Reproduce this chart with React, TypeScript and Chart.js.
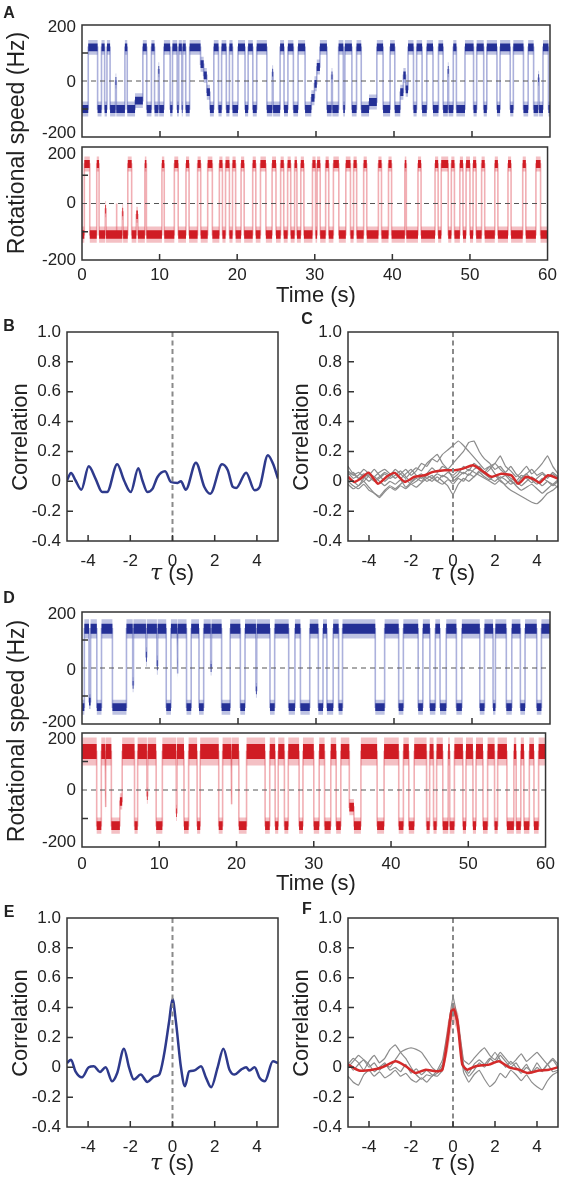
import React, { useEffect, useRef } from 'react';
import { Chart, registerables } from 'chart.js';

Chart.register(...registerables);

const FONT = '"Liberation Sans", Arial, Helvetica, sans-serif';
Chart.defaults.font.family = FONT;
Chart.defaults.color = '#222';

// ---------------- DATA ----------------
type Seg = [number, number, number];

const timeTicks = [0, 10, 20, 30, 40, 50, 60];
const speedInnerTicks = [-100, 100];
const tauTicks = [-4, -2, 0, 2, 4];
const corrTicks = [-0.4, -0.2, 0, 0.2, 0.4, 0.6, 0.8, 1.0];
const corrInnerTicks = [-0.2, 0, 0.2, 0.4, 0.6, 0.8];

// Panel A, upper (blue) trace: level outside the segments + segments [start s, end s, level Hz]
const aBlueBase = -100;
const aBlueSegments: Seg[] = [
  [0.8, 2.0, 120], [2.5, 2.9, 120], [3.2, 3.6, 120], [4.3, 4.4, 0], [5.5, 5.8, 120], [6.8, 7.8, -70],
  [7.8, 8.3, 120], [8.9, 9.3, 120], [9.8, 9.9, 40], [10.5, 11.3, 120], [11.6, 12.2, 120], [12.4, 12.8, 120],
  [12.9, 13.3, 120], [13.8, 15.2, 120], [15.2, 15.6, 60], [15.6, 16.0, 20], [16.0, 16.4, -40],
  [16.9, 17.5, 120], [17.9, 18.5, 120], [18.9, 19.3, 120], [20.0, 20.9, 120], [21.3, 21.9, 120],
  [22.4, 23.7, 120], [24.4, 24.5, 30], [25.4, 25.9, 120], [26.4, 27.1, 120], [27.7, 28.6, 120], [29.4, 29.8, -60],
  [29.8, 30.1, -10], [30.1, 30.5, 50], [30.5, 31.4, 120], [32.0, 32.1, 20], [32.9, 33.5, 120], [33.7, 34.6, 120],
  [35.2, 35.8, 120], [36.8, 37.8, -75], [37.8, 38.6, 120], [39.5, 40.1, 120], [40.8, 41.2, -40],
  [41.2, 41.5, 20], [41.5, 41.8, -30], [41.8, 42.5, 120], [42.9, 43.6, 120], [44.2, 45.0, 120],
  [45.7, 46.3, 120], [46.9, 47.0, 40], [47.6, 48.0, 120], [49.1, 50.2, 120], [50.6, 51.5, 120], [51.9, 53.2, 120],
  [53.6, 54.9, 120], [55.3, 56.6, 120], [57.2, 57.9, 120], [58.5, 58.6, 10], [59.1, 59.8, 120],
];

// Panel A, lower (red) trace
const aRedBase = -110;
const aRedSegments: Seg[] = [
  [0.3, 1.0, 140], [1.9, 2.2, 140], [3.0, 3.1, -20], [4.4, 4.5, 0], [5.2, 5.3, -30],
  [5.9, 6.4, 140], [7.0, 7.2, -40], [8.1, 8.3, 140], [10.3, 10.6, 140], [11.9, 12.4, 140],
  [13.4, 13.8, 140], [14.9, 15.3, 140], [16.2, 16.8, 140], [17.7, 18.1, 140], [18.5, 19.0, 140],
  [19.4, 19.8, 140], [20.5, 20.9, 140], [22.0, 22.4, 140], [23.0, 23.7, 140], [24.5, 25.0, 140],
  [25.6, 26.0, 140], [26.5, 26.9, 140], [27.4, 27.7, 140], [28.2, 28.6, 140], [29.7, 30.1, 140],
  [30.3, 30.7, 140], [31.4, 31.8, 140], [32.4, 33.1, 140], [34.0, 34.6, 140], [35.0, 35.4, 140],
  [36.3, 36.7, 140], [38.2, 38.6, 140], [39.5, 39.9, 140], [41.6, 41.8, 140], [43.3, 43.7, 140],
  [45.5, 45.9, 140], [46.3, 47.2, 140], [47.6, 48.0, 140], [48.7, 49.1, 140], [49.5, 50.0, 140],
  [50.4, 50.8, 140], [51.5, 51.9, 140], [53.2, 53.6, 140], [54.9, 55.3, 140], [56.8, 57.2, 140],
  [58.5, 59.1, 140],
];

// Panel D, upper (blue) trace
const dBlueBase = 140;
const dBlueSegments: Seg[] = [
  [0, 0.3, -140], [0.9, 1.1, -120], [1.9, 2.5, -140], [3.9, 5.7, -140], [6.5, 6.6, -60],
  [8.2, 8.3, 40], [9.6, 9.7, 10], [10.8, 11.4, -140], [12.2, 12.3, -20], [13.4, 14.0, -140],
  [15.0, 15.6, -140], [16.5, 16.6, 0], [17.9, 19.0, -140], [20.3, 20.9, -140], [22.3, 22.4, -80],
  [24.1, 24.7, -140], [26.5, 27.3, -140], [28.0, 29.2, -140], [30.3, 30.9, -140], [31.4, 32.2, -140],
  [32.9, 33.4, -140], [37.6, 38.8, -140], [40.6, 41.2, -140], [43.1, 43.7, -140], [44.6, 45.3, -140],
  [45.9, 46.7, -140], [48.0, 48.7, -140], [51.0, 51.6, -140], [52.7, 53.0, -140], [54.4, 55.1, -140],
  [56.2, 56.8, -140], [58.3, 58.9, -140],
];

// Panel D, lower (red) trace
const dRedBase = 135;
const dRedSegments: Seg[] = [
  [1.9, 2.5, -125], [3.0, 3.1, -60], [3.8, 4.9, -125], [4.9, 5.2, -40], [6.8, 7.2, -125],
  [8.4, 8.5, -20], [9.6, 10.4, -125], [12.2, 12.3, -80], [13.2, 13.8, -125], [14.9, 15.3, -125],
  [17.7, 18.2, -125], [19.3, 19.4, -50], [20.3, 21.3, -125], [23.7, 24.3, -125], [25.0, 25.4, -125],
  [26.2, 26.7, -125], [28.1, 28.6, -125], [30.0, 30.7, -125], [31.4, 32.2, -125], [32.9, 33.5, -125],
  [34.6, 35.2, -60], [35.2, 36.1, -125], [38.2, 39.1, -125], [41.0, 41.6, -125], [42.3, 43.0, -125],
  [44.6, 45.0, -125], [45.5, 45.9, -125], [46.7, 47.4, -125], [47.6, 48.2, -125], [49.3, 49.7, -125],
  [50.6, 51.0, -125], [51.9, 52.5, -125], [53.4, 53.8, -125], [55.0, 55.9, -125], [56.2, 56.8, -125],
  [57.2, 57.9, -125], [58.5, 59.1, -125],
];

// Panel B
const bTau = [-5.0, -4.81, -4.6, -4.32, -3.97, -3.65, -3.33, -3.1, -2.62, -2.3, -1.98, -1.62, -1.43, -1.19, -0.95, -0.71, -0.35, -0.08, 0.24, 0.4, 0.63, 1.11, 1.51, 1.79, 2.35, 2.62, 2.86, 3.02, 3.49, 3.89, 4.13, 4.52, 4.76, 5.0];
const bCorr = [0.007, 0.056, 0.007, -0.056, 0.1, 0.018, -0.072, -0.072, 0.114, 0.007, -0.072, 0.087, 0.007, -0.072, -0.051, 0.029, 0.067, -0.004, -0.011, 0.0, -0.056, 0.125, -0.038, -0.083, 0.114, 0.074, -0.038, -0.045, 0.058, -0.06, -0.038, 0.175, 0.119, 0.018];

// grid used by the individual (grey) correlation curves
const tauGrid = [-5, -4.75, -4.5, -4.25, -4, -3.75, -3.5, -3.25, -3, -2.75, -2.5, -2.25, -2, -1.75, -1.5, -1.25, -1, -0.75, -0.5, -0.25, 0, 0.25, 0.5, 0.75, 1, 1.25, 1.5, 1.75, 2, 2.25, 2.5, 2.75, 3, 3.25, 3.5, 3.75, 4, 4.25, 4.5, 4.75, 5];

// Panel C
const cGray1 = [0.06, 0.02, 0.04, 0.08, 0.05, 0.01, 0.03, 0.06, 0.04, 0.08, 0.05, 0.02, 0.06, 0.09, 0.07, 0.12, 0.15, 0.13, 0.18, 0.21, 0.24, 0.27, 0.24, 0.2, 0.16, 0.12, 0.08, 0.1, 0.05, 0.02, 0.04, 0.0, -0.02, 0.02, 0.05, 0.01, -0.02, 0.02, 0.0, -0.03, 0.0];
const cGray2 = [0.1, 0.05, 0.02, 0.0, 0.04, 0.08, 0.04, 0.0, 0.03, 0.06, 0.02, 0.05, 0.08, 0.04, 0.02, 0.05, 0.09, 0.06, 0.1, 0.08, 0.12, 0.16, 0.2, 0.26, 0.27, 0.2, 0.15, 0.12, 0.08, 0.1, 0.06, 0.1, 0.05, 0.02, 0.05, 0.08, 0.04, 0.06, 0.03, 0.05, 0.02];
const cGray3 = [-0.02, -0.05, -0.03, 0.0, -0.04, -0.08, -0.1, -0.06, -0.03, -0.05, -0.02, 0.01, -0.02, 0.0, 0.03, 0.0, 0.02, 0.05, 0.03, 0.06, 0.04, 0.07, 0.05, 0.08, 0.06, 0.04, 0.02, 0.0, -0.02, 0.01, -0.03, -0.06, -0.08, -0.1, -0.12, -0.14, -0.15, -0.12, -0.08, -0.06, -0.03];
const cGray4 = [0.04, 0.06, 0.02, 0.05, 0.03, 0.0, 0.02, 0.05, 0.02, 0.04, 0.07, 0.03, 0.0, 0.03, 0.05, 0.02, 0.04, 0.0, -0.02, 0.01, 0.0, 0.03, 0.06, 0.04, 0.08, 0.1, 0.06, 0.1, 0.12, 0.17, 0.1, 0.07, 0.03, 0.06, 0.1, 0.05, 0.08, 0.12, 0.17, 0.1, 0.05];
const cGray5 = [0.0, -0.03, -0.05, -0.02, -0.06, -0.08, -0.11, -0.07, -0.04, -0.06, -0.03, -0.05, -0.02, -0.04, -0.01, 0.02, 0.0, 0.03, 0.0, -0.03, -0.09, -0.02, 0.02, 0.0, 0.03, 0.06, 0.03, 0.01, 0.04, 0.0, -0.02, 0.01, -0.03, -0.06, -0.04, -0.02, -0.05, -0.08, -0.05, -0.02, -0.04];
const cGray6 = [0.07, 0.04, 0.06, 0.03, 0.0, 0.03, 0.06, 0.08, 0.05, 0.02, 0.05, 0.08, 0.04, 0.07, 0.12, 0.1, 0.15, 0.18, 0.12, 0.08, 0.02, 0.05, 0.1, 0.07, 0.12, 0.09, 0.05, 0.08, 0.12, 0.08, 0.05, 0.02, 0.0, 0.04, 0.02, -0.01, 0.02, 0.05, 0.02, 0.06, 0.03];
const cGray7 = [0.02, 0.0, -0.03, 0.02, 0.05, 0.03, 0.0, -0.03, 0.0, -0.02, 0.01, -0.04, -0.01, 0.02, 0.0, 0.04, 0.02, 0.0, 0.04, 0.02, -0.02, 0.02, 0.0, 0.05, 0.03, 0.07, 0.05, 0.02, 0.0, 0.03, 0.01, -0.02, 0.0, -0.03, 0.0, 0.03, 0.0, -0.03, 0.0, -0.02, 0.01];
const cMeanTau = [-5.0, -4.71, -4.37, -4.02, -3.57, -3.13, -2.78, -2.3, -1.83, -1.35, -0.95, -0.4, 0.08, 0.48, 0.95, 1.35, 1.83, 2.3, 2.78, 3.1, 3.49, 3.89, 4.13, 4.52, 5.0];
const cMean = [0.03, -0.005, 0.02, 0.058, -0.016, 0.034, 0.056, -0.004, 0.03, 0.04, 0.063, 0.074, 0.074, 0.085, 0.107, 0.074, 0.03, 0.05, 0.04, -0.016, 0.03, 0.01, -0.01, 0.04, 0.018];

// Panel E
const eTau = [-5.0, -4.81, -4.6, -4.29, -3.97, -3.73, -3.44, -3.17, -2.86, -2.62, -2.3, -2.06, -1.83, -1.51, -1.19, -0.87, -0.63, -0.4, -0.16, 0.0, 0.16, 0.4, 0.59, 0.79, 1.03, 1.35, 1.59, 1.83, 2.14, 2.41, 2.7, 2.94, 3.25, 3.49, 3.65, 3.89, 4.13, 4.37, 4.76, 5.0];
const eCorr = [0.029, 0.051, -0.027, -0.067, 0.0, 0.007, -0.031, 0.0, -0.094, -0.038, 0.125, 0.0, -0.082, -0.049, -0.098, -0.062, -0.049, 0.085, 0.307, 0.457, 0.307, 0.0, -0.127, -0.027, -0.022, 0.007, -0.071, -0.134, 0.0, 0.125, -0.016, -0.049, -0.016, 0.0, -0.022, 0.0, -0.071, -0.094, 0.04, 0.029];

// Panel F
const fGray1 = [0.02, 0.06, 0.03, -0.02, 0.04, 0.08, 0.03, 0.06, 0.12, 0.15, 0.1, 0.06, 0.0, -0.05, -0.08, -0.05, -0.06, -0.02, 0.05, 0.25, 0.47, 0.3, 0.05, 0.02, 0.06, 0.1, 0.13, 0.08, 0.05, 0.1, 0.06, 0.02, 0.05, 0.09, 0.04, 0.07, 0.1, 0.06, 0.02, 0.05, 0.0];
const fGray2 = [0.0, 0.04, 0.08, 0.05, 0.0, 0.03, -0.02, 0.02, 0.0, 0.05, 0.1, 0.12, 0.13, 0.12, 0.1, 0.05, 0.0, -0.03, 0.02, 0.2, 0.42, 0.28, 0.0, -0.06, -0.02, 0.03, 0.0, 0.05, 0.1, 0.05, 0.0, 0.04, 0.0, -0.04, 0.0, -0.03, 0.03, -0.02, 0.02, -0.03, -0.02];
const fGray3 = [-0.06, -0.1, -0.12, -0.05, -0.02, -0.06, -0.03, -0.07, -0.05, -0.02, -0.06, -0.04, -0.08, -0.1, -0.07, -0.1, -0.06, -0.04, 0.0, 0.18, 0.4, 0.25, -0.03, -0.1, -0.05, -0.02, -0.08, -0.13, -0.1, -0.04, -0.07, -0.02, -0.05, -0.09, -0.05, -0.1, -0.13, -0.15, -0.09, -0.05, -0.03];
const fGray4 = [0.03, -0.02, 0.02, 0.05, 0.02, -0.03, 0.0, 0.03, -0.02, 0.0, -0.03, 0.02, -0.04, -0.01, -0.05, -0.02, -0.05, -0.06, -0.02, 0.2, 0.38, 0.28, 0.02, -0.04, 0.02, 0.05, 0.02, 0.06, 0.03, 0.08, 0.04, 0.0, 0.03, -0.02, 0.02, -0.04, 0.0, -0.03, 0.02, 0.06, 0.02];
const fMeanTau = [-5.0, -4.48, -3.84, -3.37, -2.73, -2.25, -1.78, -1.3, -0.83, -0.51, -0.27, -0.08, 0.05, 0.21, 0.44, 0.68, 1.08, 1.71, 2.19, 2.67, 3.14, 3.54, 4.1, 4.57, 5.0];
const fMean = [0.018, -0.022, -0.016, 0.0, 0.04, 0.007, -0.038, -0.016, -0.027, -0.016, 0.17, 0.375, 0.386, 0.31, 0.018, -0.016, 0.007, 0.018, 0.04, 0.0, -0.016, -0.038, -0.022, -0.016, 0.0];
const fBandTau = [-0.5, -0.25, 0, 0.25, 0.5];
const fBandHi = [0.03, 0.3, 0.44, 0.36, 0.06];
const fBandLo = [-0.04, 0.1, 0.32, 0.22, -0.02];

// ---------------- HELPERS ----------------
const pts = (xs: number[], ys: number[]) => xs.map((x, i) => ({ x, y: ys[i] }));

function stepPoints(base: number, segs: Seg[], tEnd: number) {
  const out: { x: number; y: number }[] = [];
  let t = 0;
  for (const [s, e, lv] of segs) {
    if (s > t) out.push({ x: t, y: base }, { x: s, y: base });
    out.push({ x: s, y: lv }, { x: e, y: lv });
    t = e;
  }
  if (t < tEnd) out.push({ x: t, y: base }, { x: tEnd, y: base });
  return out;
}

const framePlugin = {
  id: 'frame',
  afterDatasetsDraw(chart: any, _args: any, opts: any) {
    const { ctx, chartArea: ca, scales } = chart;
    const xs = scales.x;
    const ys = scales.y;
    ctx.save();
    ctx.strokeStyle = '#333';
    ctx.lineWidth = 1.5;
    ctx.strokeRect(ca.left, ca.top, ca.right - ca.left, ca.bottom - ca.top);
    ctx.beginPath();
    const tl = opts.tickLen || 6;
    (opts.xTicks || []).forEach((v: number) => {
      const px = xs.getPixelForValue(v);
      ctx.moveTo(px, ca.bottom);
      ctx.lineTo(px, ca.bottom - tl);
    });
    (opts.yTicks || []).forEach((v: number) => {
      const py = ys.getPixelForValue(v);
      ctx.moveTo(ca.left, py);
      ctx.lineTo(ca.left + tl, py);
    });
    ctx.stroke();
    if (opts.yLabels) {
      ctx.fillStyle = '#222';
      ctx.font = `17px ${FONT}`;
      ctx.textAlign = 'right';
      ctx.textBaseline = 'middle';
      opts.yLabels.forEach((l: any) => {
        ctx.fillText(l.text, ca.left - 6, ys.getPixelForValue(l.v) + l.dy);
      });
    }
    ctx.restore();
  },
};

const clear = 'rgba(0,0,0,0)';

function traceConfig(p: {
  base: number; segs: Seg[]; ampHi: number; ampLo: number; band: string; halo: string; line: string;
  yLabels: { v: number; text: string; dy: number }[];
  showX: boolean; xAxisH: number; padTop: number; xPad: number;
}) {
  const sp = stepPoints(p.base, p.segs, 60);
  const amp = (y: number) => (y > 0 ? p.ampHi : p.ampLo);
  const env = (k: number) => sp.map((q) => ({ x: q.x, y: q.y + k * amp(q.y) }));
  return {
    type: 'line',
    data: {
      datasets: [
        { data: [{ x: 0, y: 0 }, { x: 60, y: 0 }], borderColor: '#555', borderWidth: 1, borderDash: [5, 4], pointRadius: 0, order: 0 },
        { data: env(1), borderWidth: 0, borderColor: clear, pointRadius: 0, fill: false, order: 1 },
        { data: env(-1), borderWidth: 0, borderColor: clear, pointRadius: 0, fill: '-1', backgroundColor: p.band, order: 1 },
        { data: env(1.9), borderWidth: 0, borderColor: clear, pointRadius: 0, fill: false, order: 2 },
        { data: env(-1.9), borderWidth: 0, borderColor: clear, pointRadius: 0, fill: '-1', backgroundColor: p.halo, order: 2 },
        { data: sp, borderColor: p.line, borderWidth: 1.6, pointRadius: 0, order: 3 },
      ],
    },
    options: {
      animation: false,
      responsive: false,
      events: [],
      layout: { padding: { top: p.padTop, right: 12, left: 0, bottom: 0 } },
      plugins: {
        legend: { display: false },
        tooltip: { enabled: false },
        frame: { xTicks: [10, 20, 30, 40, 50], yTicks: speedInnerTicks, tickLen: 6, yLabels: p.yLabels },
      },
      scales: {
        x: {
          type: 'linear', min: 0, max: 60,
          afterBuildTicks: (s: any) => { s.ticks = timeTicks.map((v) => ({ value: v })); },
          ticks: { display: p.showX, padding: p.xPad, font: { size: 17 }, color: '#222', maxRotation: 0, autoSkip: false },
          grid: { display: false, drawTicks: false },
          border: { display: false },
          afterFit: (s: any) => { s.height = p.xAxisH; },
        },
        y: {
          type: 'linear', min: -200, max: 200,
          ticks: { display: false },
          grid: { display: false, drawTicks: false },
          border: { display: false },
          afterFit: (s: any) => { s.width = 82; },
        },
      },
    },
    plugins: [framePlugin],
  };
}

function corrConfig(datasets: any[], p: { padTop: number; padRight: number; xAxisH: number; xPad: number }) {
  return {
    type: 'line',
    data: {
      datasets: [
        { data: [{ x: 0, y: -0.4 }, { x: 0, y: 1.0 }], borderColor: '#8a8a8a', borderWidth: 2, borderDash: [5, 3.5], pointRadius: 0, order: 0 },
        ...datasets,
      ],
    },
    options: {
      animation: false,
      responsive: false,
      events: [],
      layout: { padding: { top: p.padTop, right: p.padRight, left: 0, bottom: 0 } },
      plugins: {
        legend: { display: false },
        tooltip: { enabled: false },
        frame: { xTicks: tauTicks, yTicks: corrInnerTicks, tickLen: 6 },
      },
      scales: {
        x: {
          type: 'linear', min: -5, max: 5,
          afterBuildTicks: (s: any) => { s.ticks = tauTicks.map((v) => ({ value: v })); },
          ticks: { padding: p.xPad, font: { size: 17 }, color: '#222', maxRotation: 0, autoSkip: false },
          grid: { display: false, drawTicks: false },
          border: { display: false },
          afterFit: (s: any) => { s.height = p.xAxisH; },
        },
        y: {
          type: 'linear', min: -0.4, max: 1.0,
          afterBuildTicks: (s: any) => { s.ticks = corrTicks.map((v) => ({ value: v })); },
          ticks: {
            padding: 6, font: { size: 17 }, color: '#222', autoSkip: false,
            callback: (v: any) => (Math.abs(Number(v)) < 1e-9 ? '0' : Number(v).toFixed(1)),
          },
          grid: { display: false, drawTicks: false },
          border: { display: false },
          afterFit: (s: any) => { s.width = 67; },
        },
      },
    },
    plugins: [framePlugin],
  };
}

const grayDs = (ys: number[]) => ({
  data: pts(tauGrid, ys), borderColor: '#8c8c8c', borderWidth: 1.2, pointRadius: 0, tension: 0.1, order: 3,
});

// ---------------- COMPONENTS ----------------
function ChartCanvas({ left, top, width, height, make }: { left: number; top: number; width: number; height: number; make: () => any }) {
  const ref = useRef<HTMLCanvasElement>(null);
  useEffect(() => {
    const chart = new Chart(ref.current as HTMLCanvasElement, make());
    return () => chart.destroy();
  }, []);
  return (
    <canvas ref={ref} width={width} height={height}
      style={{ position: 'absolute', left, top, width, height, display: 'block' }} />
  );
}

function Txt({ x, y, size, rotate, bold, children }: { x: number; y: number; size: number; rotate?: boolean; bold?: boolean; children: any }) {
  return (
    <div style={{
      position: 'absolute', left: x, top: y,
      transform: `translate(-50%, -50%)${rotate ? ' rotate(-90deg)' : ''}`,
      fontFamily: FONT, fontSize: size, fontWeight: bold ? 700 : 400, color: '#222',
      whiteSpace: 'nowrap', lineHeight: 1,
    }}>{children}</div>
  );
}

const Tau = () => (
  <span><span style={{ fontFamily: '"DejaVu Serif", "Liberation Serif", serif', fontStyle: 'italic' }}>τ</span> (s)</span>
);

export default function App() {
  useEffect(() => { document.body.style.margin = '0'; }, []);
  const blueBand = 'rgb(36,48,150)';
  const blueHalo = 'rgba(70,82,175,0.35)';
  const blueLine = 'rgba(90,100,185,0.5)';
  const redBand = 'rgb(208,28,36)';
  const redHalo = 'rgba(220,60,70,0.32)';
  const redLine = 'rgba(228,95,105,0.5)';
  return (
    <div style={{ position: 'absolute', left: 0, top: 0, width: 562, height: 1178, background: '#fff', overflow: 'hidden' }}>
      {/* Panel A */}
      <ChartCanvas left={0} top={0} width={562} height={140} make={() => traceConfig({
        base: aBlueBase, segs: aBlueSegments, ampHi: 14, ampLo: 14, band: blueBand, halo: blueHalo, line: blueLine,
        yLabels: [{ v: 200, text: '200', dy: 2 }, { v: 0, text: '0', dy: 1 }, { v: -200, text: '-200', dy: -4 }],
        showX: false, xAxisH: 3, padTop: 25, xPad: 0,
      })} />
      <ChartCanvas left={0} top={140} width={562} height={160} make={() => traceConfig({
        base: aRedBase, segs: aRedSegments, ampHi: 14, ampLo: 15, band: redBand, halo: redHalo, line: redLine,
        yLabels: [{ v: 200, text: '200', dy: 7 }, { v: 0, text: '0', dy: 0 }, { v: -200, text: '-200', dy: 0 }],
        showX: true, xAxisH: 40, padTop: 7, xPad: 5,
      })} />
      {/* Panel B */}
      <ChartCanvas left={0} top={300} width={281} height={290} make={() => corrConfig([
        { data: pts(bTau, bCorr), borderColor: '#2e3a8c', borderWidth: 2.5, pointRadius: 0, cubicInterpolationMode: 'monotone', order: 1 },
      ], { padTop: 32, padRight: 3, xAxisH: 49, xPad: 10 })} />
      {/* Panel C */}
      <ChartCanvas left={281} top={300} width={281} height={290} make={() => corrConfig([
        grayDs(cGray1), grayDs(cGray2), grayDs(cGray3), grayDs(cGray4), grayDs(cGray5), grayDs(cGray6), grayDs(cGray7),
        { data: pts(cMeanTau, cMean), borderColor: '#d42a2a', borderWidth: 2.5, pointRadius: 0, tension: 0.2, order: 1 },
      ], { padTop: 32, padRight: 4, xAxisH: 49, xPad: 10 })} />
      {/* Panel D */}
      <ChartCanvas left={0} top={590} width={562} height={137} make={() => traceConfig({
        base: dBlueBase, segs: dBlueSegments, ampHi: 18, ampLo: 14, band: blueBand, halo: blueHalo, line: blueLine,
        yLabels: [{ v: 200, text: '200', dy: 2 }, { v: 0, text: '0', dy: 2 }, { v: -200, text: '-200', dy: -2 }],
        showX: false, xAxisH: 3, padTop: 22, xPad: 0,
      })} />
      <ChartCanvas left={0} top={727} width={562} height={165} make={() => traceConfig({
        base: dRedBase, segs: dRedSegments, ampHi: 26, ampLo: 15, band: redBand, halo: redHalo, line: redLine,
        yLabels: [{ v: 200, text: '200', dy: 6 }, { v: 0, text: '0', dy: 0 }, { v: -200, text: '-200', dy: -5 }],
        showX: true, xAxisH: 45, padTop: 6, xPad: 7,
      })} />
      {/* Panel E */}
      <ChartCanvas left={0} top={888} width={281} height={290} make={() => corrConfig([
        { data: pts(eTau, eCorr), borderColor: '#2e3a8c', borderWidth: 2.5, pointRadius: 0, cubicInterpolationMode: 'monotone', order: 1 },
      ], { padTop: 30, padRight: 3, xAxisH: 51, xPad: 10 })} />
      {/* Panel F */}
      <ChartCanvas left={281} top={888} width={281} height={290} make={() => corrConfig([
        { data: pts(fBandTau, fBandHi), borderWidth: 0, borderColor: clear, pointRadius: 0, fill: false, order: 2 },
        { data: pts(fBandTau, fBandLo), borderWidth: 0, borderColor: clear, pointRadius: 0, fill: '-1', backgroundColor: 'rgba(220,60,60,0.35)', order: 2 },
        grayDs(fGray1), grayDs(fGray2), grayDs(fGray3), grayDs(fGray4),
        { data: pts(fMeanTau, fMean), borderColor: '#d42a2a', borderWidth: 2.5, pointRadius: 0, tension: 0.2, order: 1 },
      ], { padTop: 30, padRight: 4, xAxisH: 51, xPad: 10 })} />

      {/* Text */}
      <Txt x={9} y={13} size={16} bold>A</Txt>
      <Txt x={9} y={326} size={16} bold>B</Txt>
      <Txt x={307} y={319} size={16} bold>C</Txt>
      <Txt x={9} y={598} size={16} bold>D</Txt>
      <Txt x={9} y={912} size={16} bold>E</Txt>
      <Txt x={307} y={909} size={16} bold>F</Txt>

      <Txt x={16} y={143} size={23} rotate>Rotational speed (Hz)</Txt>
      <Txt x={316} y={295} size={22}>Time (s)</Txt>
      <Txt x={16} y={731} size={23} rotate>Rotational speed (Hz)</Txt>
      <Txt x={316} y={883} size={22}>Time (s)</Txt>

      <Txt x={20} y={437} size={22} rotate>Correlation</Txt>
      <Txt x={301} y={437} size={22} rotate>Correlation</Txt>
      <Txt x={20} y={1023} size={22} rotate>Correlation</Txt>
      <Txt x={301} y={1023} size={22} rotate>Correlation</Txt>

      <Txt x={172} y={573} size={22}><Tau /></Txt>
      <Txt x={453} y={573} size={22}><Tau /></Txt>
      <Txt x={172} y={1163} size={22}><Tau /></Txt>
      <Txt x={453} y={1163} size={22}><Tau /></Txt>
    </div>
  );
}
